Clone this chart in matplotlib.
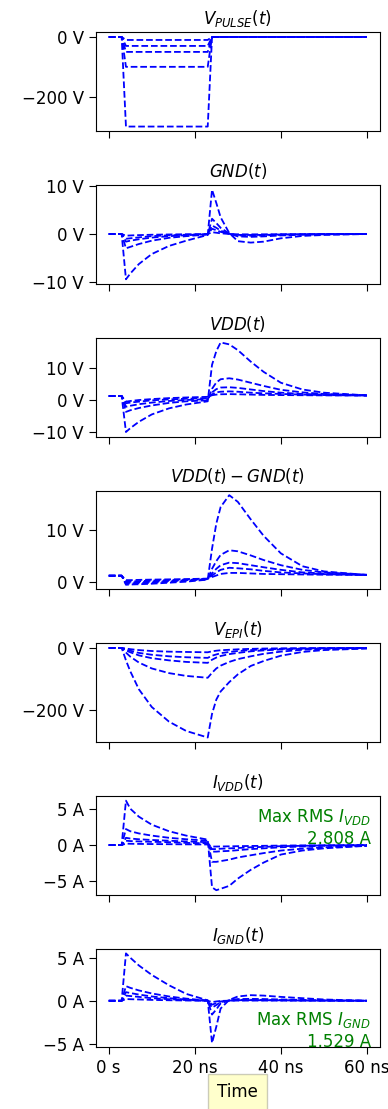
import matplotlib
matplotlib.use('Agg')
import numpy as np
import matplotlib.pyplot as plt
from matplotlib.ticker import EngFormatter

plt.rcParams['font.size'] = 12
plt.rcParams['xtick.major.size'] = 5
plt.rcParams['ytick.major.size'] = 5

# pulse waveform (ns, V) for the five pulse amplitudes
t_pulse_ns = [0, 3, 4, 23, 24, 60]
vpulse = [
    [0, 0, -10, -10, 0, 0],
    [0, 0, -30, -30, 0, 0],
    [0, 0, -50, -50, 0, 0],
    [0, 0, -100, -100, 0, 0],
    [0, 0, -300, -300, 0, 0],
]

# common time base of the responses (ns)
t_ns = [0, 3, 4, 5, 7, 10, 14, 18, 23, 24, 25, 26, 28, 30, 33, 36, 40, 45, 50, 60]

gnd = [
    [0, 0, -0.35, -0.3, -0.23, -0.15, -0.09, -0.05, -0.01, 0.38, 0.27, 0.15, 0.01, -0.06, -0.07, -0.06, -0.03, -0.02, -0.01, 0],
    [0, 0, -1.0, -0.9, -0.7, -0.45, -0.27, -0.15, -0.03, 1.1, 0.8, 0.45, 0.03, -0.18, -0.2, -0.18, -0.1, -0.05, -0.02, 0],
    [0, 0, -1.6, -1.4, -1.1, -0.75, -0.45, -0.25, -0.05, 1.8, 1.3, 0.7, 0.05, -0.3, -0.35, -0.3, -0.15, -0.08, -0.03, 0],
    [0, 0, -3.0, -2.7, -2.1, -1.4, -0.8, -0.45, -0.1, 3.2, 2.3, 1.3, 0.1, -0.5, -0.6, -0.5, -0.3, -0.15, -0.05, 0],
    [0, 0, -9.5, -8.3, -6.3, -4.2, -2.5, -1.4, -0.2, 9.3, 6.5, 3.5, 0.2, -1.5, -1.8, -1.6, -0.9, -0.4, -0.2, 0],
]

vdd = [
    [1.25, 1.25, -0.5, -0.3, 0.0, 0.3, 0.6, 0.8, 1.0, 1.5, 1.7, 1.8, 1.85, 1.8, 1.7, 1.6, 1.55, 1.5, 1.45, 1.4],
    [1.25, 1.25, -1.0, -0.8, -0.5, -0.1, 0.2, 0.4, 0.6, 1.8, 2.4, 2.6, 2.7, 2.6, 2.3, 2.1, 1.9, 1.7, 1.55, 1.4],
    [1.25, 1.25, -2.1, -1.8, -1.3, -0.8, -0.3, 0.0, 0.3, 2.4, 3.4, 3.9, 4.0, 3.8, 3.3, 2.8, 2.3, 1.9, 1.7, 1.45],
    [1.25, 1.25, -3.7, -3.2, -2.5, -1.7, -0.9, -0.4, -0.1, 3.5, 5.5, 6.5, 6.8, 6.4, 5.4, 4.4, 3.2, 2.4, 1.9, 1.5],
    [1.25, 1.25, -10.0, -8.8, -6.8, -4.5, -2.6, -1.4, -0.4, 11.0, 15.3, 18.0, 17.4, 15.6, 12.0, 8.8, 5.4, 3.3, 2.3, 1.45],
]

vdd_gnd = [
    [1.16, 1.16, 0.3, 0.3, 0.35, 0.4, 0.45, 0.5, 0.6, 0.9, 1.2, 1.5, 1.7, 1.7, 1.6, 1.5, 1.45, 1.4, 1.35, 1.3],
    [1.16, 1.16, 0.0, 0.05, 0.1, 0.2, 0.3, 0.4, 0.55, 1.2, 1.8, 2.3, 2.7, 2.6, 2.4, 2.1, 1.8, 1.6, 1.45, 1.3],
    [1.16, 1.16, -0.2, -0.15, -0.1, 0.0, 0.15, 0.3, 0.5, 1.6, 2.5, 3.2, 3.7, 3.6, 3.2, 2.8, 2.3, 1.8, 1.6, 1.3],
    [1.16, 1.16, -0.4, -0.35, -0.3, -0.2, 0.0, 0.2, 0.45, 2.5, 4.0, 5.2, 6.1, 5.9, 5.1, 4.2, 3.2, 2.3, 1.8, 1.35],
    [1.16, 1.16, -0.6, -0.55, -0.5, -0.4, -0.2, 0.0, 0.4, 6.4, 11.3, 14.5, 16.8, 15.5, 12.1, 8.9, 5.5, 3.0, 2.0, 1.3],
]

vepi = [
    [0, 0, -2, -4, -7, -10, -12, -13, -14, -11, -9, -7.5, -6, -4.5, -3, -2, -1.3, -0.8, -0.4, -0.1],
    [0, 0, -5, -9, -16, -22, -27, -30, -32, -25, -21, -17, -13, -10, -7, -5, -3, -2, -1, -0.3],
    [0, 0, -8, -14, -24, -33, -40, -45, -48, -38, -31, -26, -20, -16, -11, -8, -5, -3, -1.5, -0.5],
    [0, 0, -15, -28, -47, -66, -81, -90, -96, -80, -66, -57, -45, -36, -27, -19, -12, -6, -3, -1],
    [0, 0, -40, -75, -133, -190, -237, -267, -288, -212, -166, -140, -110, -85, -58, -42, -25, -13, -7, -2],
]

ivdd = [
    [0, 0, 0.2, 0.18, 0.16, 0.14, 0.12, 0.1, 0.08, -0.2, -0.2, -0.19, -0.17, -0.15, -0.12, -0.1, -0.07, -0.04, -0.02, 0],
    [0, 0, 0.6, 0.55, 0.5, 0.45, 0.4, 0.3, 0.25, -0.55, -0.55, -0.5, -0.45, -0.4, -0.3, -0.25, -0.15, -0.1, -0.05, 0],
    [0, 0, 1.0, 0.9, 0.8, 0.7, 0.6, 0.5, 0.4, -0.9, -0.9, -0.85, -0.8, -0.7, -0.55, -0.45, -0.3, -0.2, -0.1, 0],
    [0, 0, 2.2, 1.9, 1.6, 1.3, 1.0, 0.8, 0.6, -2.3, -2.3, -2.2, -2.0, -1.7, -1.4, -1.1, -0.75, -0.5, -0.3, -0.1],
    [0, 0, 6.1, 5.0, 3.9, 2.8, 1.9, 1.3, 0.75, -5.8, -6.2, -6.0, -5.6, -4.6, -3.4, -2.4, -1.3, -0.75, -0.45, -0.1],
]

ignd = [
    [0, 0, 0.2, 0.18, 0.15, 0.1, 0.06, 0.03, 0.0, -0.15, -0.08, -0.02, 0.01, 0.02, 0.02, 0.02, 0.015, 0.01, 0.005, 0],
    [0, 0, 0.6, 0.55, 0.45, 0.3, 0.18, 0.08, 0.01, -0.45, -0.28, -0.08, 0.02, 0.06, 0.07, 0.06, 0.05, 0.03, 0.02, 0],
    [0, 0, 1.0, 0.9, 0.72, 0.5, 0.3, 0.14, 0.01, -0.8, -0.5, -0.15, 0.03, 0.1, 0.12, 0.1, 0.08, 0.05, 0.03, 0],
    [0, 0, 1.7, 1.5, 1.2, 0.85, 0.5, 0.25, 0.02, -1.6, -1.0, -0.3, 0.05, 0.2, 0.22, 0.2, 0.15, 0.1, 0.05, 0],
    [0, 0, 5.5, 5.0, 4.1, 3.0, 1.8, 0.8, 0.05, -4.9, -3.0, -0.9, 0.1, 0.5, 0.65, 0.6, 0.45, 0.3, 0.15, 0],
]

titles = [r'$V_{PULSE}(t)$', r'$GND(t)$', r'$VDD(t)$', r'$VDD(t) - GND(t)$',
          r'$V_{EPI}(t)$', r'$I_{VDD}(t)$', r'$I_{GND}(t)$']
units = ['V', 'V', 'V', 'V', 'V', 'A', 'A']
yticks = [[-200, 0], [-10, 0, 10], [-10, 0, 10], [0, 10], [-200, 0], [-5, 0, 5], [-5, 0, 5]]
rms_vdd = 2.808
rms_gnd = 1.529

t_pulse = np.array(t_pulse_ns) * 1e-9
t = np.array(t_ns) * 1e-9
panels = [(t_pulse, vpulse), (t, gnd), (t, vdd), (t, vdd_gnd), (t, vepi), (t, ivdd), (t, ignd)]

fig, axes = plt.subplots(7, 1, sharex=True, figsize=(3.88, 11.09), dpi=100)
fig.subplots_adjust(left=0.247, right=0.979, top=0.9707, bottom=0.0555, hspace=0.55)

for ax, (tt, traces), title, unit, yt in zip(axes, panels, titles, units, yticks):
    for y in traces:
        ax.plot(tt, y, 'b--', lw=1.3)
    ax.set_title(title, fontsize=12)
    ax.yaxis.set_major_formatter(EngFormatter(unit=unit))
    ax.set_yticks(yt)

axes[-1].xaxis.set_major_formatter(EngFormatter(unit='s'))
axes[-1].set_xticks(np.array([0, 20, 40, 60]) * 1e-9)

axes[5].text(0.968, 0.68, 'Max RMS $I_{VDD}$\n%.3f A' % rms_vdd, color='green',
             ha='right', va='center', multialignment='right', transform=axes[5].transAxes)
axes[6].text(0.968, 0.17, 'Max RMS $I_{GND}$\n%.3f A' % rms_gnd, color='green',
             ha='right', va='center', multialignment='right', transform=axes[6].transAxes)

axes[-1].set_xlabel('Time', fontsize=12,
                    bbox=dict(boxstyle='square,pad=0.55', facecolor='yellow', alpha=0.2))

plt.savefig('out.png')
